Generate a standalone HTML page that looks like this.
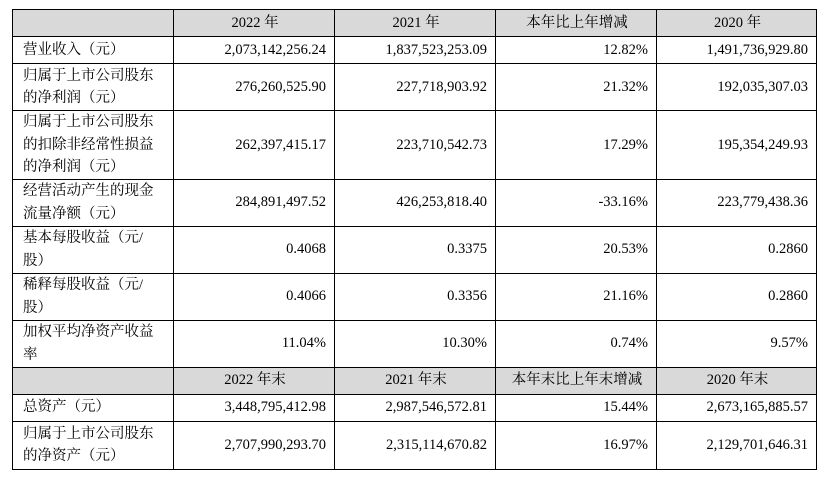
<!DOCTYPE html>
<html><head><meta charset="utf-8"><style>
body{margin:0;width:830px;height:477px;background:#fff;overflow:hidden}
table{position:absolute;left:12px;top:9px;border-collapse:collapse;table-layout:fixed;font-family:"Liberation Serif","Noto Serif CJK SC",serif;font-size:14.5px;color:#000}
td{border:1.3px solid #000;padding:0 8px 0 10px;line-height:22.5px;text-align:right;vertical-align:middle;white-space:nowrap}
td.l{text-align:left}
tr.h td{background:#d9d9d9;text-align:center}
</style></head><body>
<table>
<colgroup><col style="width:161px"><col style="width:161px"><col style="width:161px"><col style="width:161px"><col style="width:160px"></colgroup>
<tr class="h" style="height:27px"><td></td><td>2022 年</td><td>2021 年</td><td>本年比上年增减</td><td>2020 年</td></tr>
<tr style="height:27px"><td class="l">营业收入（元）</td><td>2,073,142,256.24</td><td>1,837,523,253.09</td><td>12.82%</td><td>1,491,736,929.80</td></tr>
<tr style="height:47px"><td class="l">归属于上市公司股东<br>的净利润（元）</td><td>276,260,525.90</td><td>227,718,903.92</td><td>21.32%</td><td>192,035,307.03</td></tr>
<tr style="height:67px"><td class="l">归属于上市公司股东<br>的扣除非经常性损益<br>的净利润（元）</td><td>262,397,415.17</td><td>223,710,542.73</td><td>17.29%</td><td>195,354,249.93</td></tr>
<tr style="height:47px"><td class="l">经营活动产生的现金<br>流量净额（元）</td><td>284,891,497.52</td><td>426,253,818.40</td><td>-33.16%</td><td>223,779,438.36</td></tr>
<tr style="height:47px"><td class="l">基本每股收益（元/<br>股）</td><td>0.4068</td><td>0.3375</td><td>20.53%</td><td>0.2860</td></tr>
<tr style="height:47px"><td class="l">稀释每股收益（元/<br>股）</td><td>0.4066</td><td>0.3356</td><td>21.16%</td><td>0.2860</td></tr>
<tr style="height:47px"><td class="l">加权平均净资产收益<br>率</td><td>11.04%</td><td>10.30%</td><td>0.74%</td><td>9.57%</td></tr>
<tr class="h" style="height:27px"><td></td><td>2022 年末</td><td>2021 年末</td><td>本年末比上年末增减</td><td>2020 年末</td></tr>
<tr style="height:27px"><td class="l">总资产（元）</td><td>3,448,795,412.98</td><td>2,987,546,572.81</td><td>15.44%</td><td>2,673,165,885.57</td></tr>
<tr style="height:48px"><td class="l">归属于上市公司股东<br>的净资产（元）</td><td>2,707,990,293.70</td><td>2,315,114,670.82</td><td>16.97%</td><td>2,129,701,646.31</td></tr>
</table>
</body></html>
